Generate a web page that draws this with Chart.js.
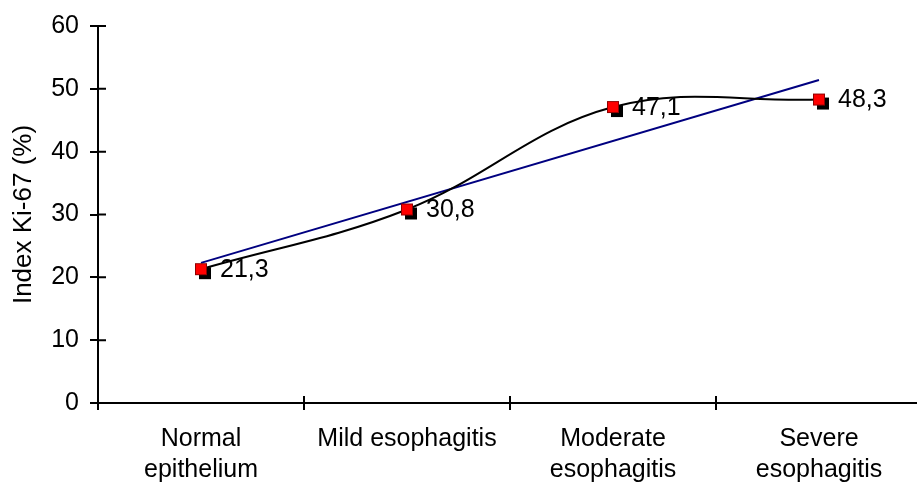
<!DOCTYPE html>
<html>
<head>
<meta charset="utf-8">
<script src="https://cdn.jsdelivr.net/npm/chart.js@4"></script>
<style>
  html, body { margin: 0; padding: 0; background: #fff; overflow: hidden; }
  #wrap { width: 930px; height: 484px; }
  #ki67 { display: block; }
</style>
</head>
<body>
<div id="wrap"><canvas id="ki67" width="930" height="484"></canvas></div>
<script>
const FONT = '"Liberation Sans", Arial, sans-serif';

// ---- data ----
const categories = [["Normal", "epithelium"], "Mild esophagitis", ["Moderate", "esophagitis"], ["Severe", "esophagitis"]];
const ki67 = [21.3, 30.8, 47.1, 48.3];
const trend = [22.3, null, null, 51.4];   // linear trendline ends
const yTicks = { min: 0, max: 60, step: 10 };

// red square marker with black drop shadow
function makeMarker(){
  const c = document.createElement("canvas");
  c.width = 24; c.height = 24;
  const g = c.getContext("2d");
  g.fillStyle = "#000";
  g.fillRect(10, 10, 12, 12);
  g.fillStyle = "#ff0000";
  g.fillRect(6, 6, 12, 12);
  g.strokeStyle = "#900000";
  g.lineWidth = 1;
  g.strokeRect(6.5, 6.5, 11, 11);
  return c;
}

// inward half of the crossing tick marks
const crossTicks = {
  id: "crossTicks",
  afterDraw(chart){
    const { ctx, chartArea, scales: { x, y } } = chart;
    ctx.save();
    ctx.strokeStyle = "#000";
    ctx.lineWidth = 2;
    ctx.beginPath();
    y.ticks.forEach(t => {
      const py = y.getPixelForValue(t.value);
      ctx.moveTo(chartArea.left, py);
      ctx.lineTo(chartArea.left + 8, py);
    });
    for (let i = 0; i <= categories.length; i++){
      const px = x.getPixelForValue(i - 0.5);
      ctx.moveTo(px, chartArea.bottom);
      ctx.lineTo(px, chartArea.bottom - 7);
    }
    ctx.stroke();
    ctx.restore();
  }
};

// value labels to the right of the points
const valueLabels = {
  id: "valueLabels",
  afterDatasetsDraw(chart){
    const { ctx } = chart;
    const meta = chart.getDatasetMeta(0);
    ctx.save();
    ctx.font = "25px " + FONT;
    ctx.fillStyle = "#000";
    ctx.textAlign = "left";
    ctx.textBaseline = "middle";
    meta.data.forEach((pt, i) => {
      ctx.fillText(ki67[i].toFixed(1).replace(".", ","), pt.x + 19, pt.y + 1);
    });
    ctx.restore();
  }
};

new Chart(document.getElementById("ki67"), {
  type: "line",
  data: {
    labels: categories,
    datasets: [
      {
        label: "Ki-67",
        data: ki67,
        borderColor: "#000",
        borderWidth: 2,
        tension: 0.38,
        pointStyle: makeMarker(),
        pointRadius: 6,
        pointHoverRadius: 6
      },
      {
        label: "Trend",
        data: trend,
        spanGaps: true,
        borderColor: "#000080",
        borderWidth: 2,
        tension: 0,
        pointRadius: 0,
        pointHoverRadius: 0
      }
    ]
  },
  options: {
    responsive: false,
    animation: false,
    devicePixelRatio: 1,
    layout: { padding: { top: 20, right: 0, left: 0, bottom: 0 } },
    plugins: { legend: { display: false }, tooltip: { enabled: false } },
    events: [],
    scales: {
      x: {
        offset: true,
        grid: { offset: true, drawOnChartArea: false, color: "#000", lineWidth: 2, tickLength: 7 },
        border: { color: "#000", width: 2 },
        ticks: { color: "#000", font: { family: FONT, size: 25, lineHeight: 1.25 }, padding: 13, maxRotation: 0, autoSkip: false },
        afterFit(s){ s.height = 81; }
      },
      y: {
        min: yTicks.min,
        max: yTicks.max,
        grid: { drawOnChartArea: false, color: "#000", lineWidth: 2, tickLength: 8 },
        border: { color: "#000", width: 2 },
        ticks: { stepSize: yTicks.step, color: "#000", font: { family: FONT, size: 25 }, padding: 11 },
        title: { display: true, text: "Index Ki-67 (%)", color: "#000", font: { family: FONT, size: 26 }, padding: { top: 8 } },
        afterFit(s){ s.width = 98; }
      }
    }
  },
  plugins: [crossTicks, valueLabels]
});
</script>
</body>
</html>
